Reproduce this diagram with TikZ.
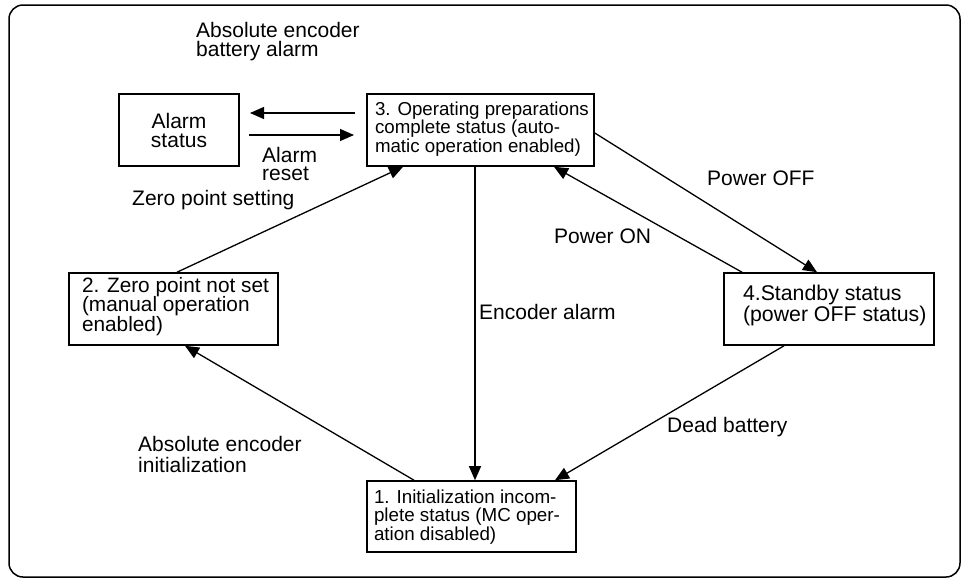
\documentclass[tikz,border=0pt]{standalone}
\usepackage{fontspec}
\setmainfont{Liberation Sans}
\usetikzlibrary{arrows.meta,calc}
\newcommand\boxtxt[7]{\parbox[c][#2][t]{#1}{\fontsize{#5}{#6}\selectfont\leftskip=#3\relax\rightskip=0pt plus 1fil\relax\parindent=0pt\parfillskip=0pt\relax\rule{0pt}{#4}#7}}
\newcommand\lbltxt[3]{\parbox[t]{#1}{\fontsize{21}{#2}\selectfont #3}}
\begin{document}
\begin{tikzpicture}[x=1pt,y=-1pt,
  box/.style={draw,line width=1.6pt,inner sep=0pt},
  lab/.style={inner sep=0pt,anchor=base west,font=\fontsize{21}{20}\selectfont},
  arr/.style={line width=1.3pt,-{Triangle[length=14pt,width=12pt]}},
]
\useasboundingbox (0,0) rectangle (962,579);
\draw[line width=1.5pt, rounded corners=14pt] (9,5) rectangle (960,577);

\node[box] (al) at (179,130) {\parbox[c][72pt][t]{120pt}{\centering\fontsize{21}{19}\selectfont\rule{0pt}{34pt}Alarm\\status\par}};
\node[box] (s3) at (480.5,130) {\boxtxt{227pt}{72pt}{8pt}{21pt}{18.7}{18.5}{3. Operating preparations\\complete status (auto-\\matic operation enabled)}};
\node[box] (s2) at (173.5,309) {\boxtxt{209pt}{72pt}{13pt}{19pt}{20.8}{19.5}{2. Zero point not set\\(manual operation\\enabled)}};
\node[box] (s4) at (829,309) {\boxtxt{210pt}{72pt}{19pt}{27pt}{21.3}{21.5}{4.Standby status\\(power OFF status)}};
\node[box] (s1) at (471.5,516.5) {\boxtxt{209pt}{71pt}{7pt}{22pt}{18.8}{18.5}{1. Initialization incom-\\plete status (MC oper-\\ation disabled)}};

\coordinate (a1) at (355,113); \coordinate (a2) at (250,113);
\coordinate (b1) at (249,135); \coordinate (b2) at (354,135);
\draw[arr] (a1) -- (a2);
\draw[arr] (b1) -- (b2);
\draw[arr] ($(s2.north)+(3.5,0)$) -- ($(s3.south)+(-77.5,0)$);
\draw[arr] ($(s1.north)+(-57.5,0)$) -- ($(s2.south)+(11.5,0)$);
\draw[arr] ($(s3.south)+(-5.5,0)$) -- ($(s1.north)+(3.5,0)$);
\draw[arr] ($(s3.east)+(0,3)$) -- ($(s4.north)+(-12,0)$);
\draw[arr] ($(s4.north)+(-87,0)$) -- ($(s3.south)+(73.5,0)$);
\draw[arr] ($(s4.south)+(-45,0)$) -- ($(s1.north)+(83.5,0)$);

\node[lab] (t1) at (196,37) {\lbltxt{170pt}{19.5}{Absolute encoder\\battery alarm}};
\node[lab] (t2) at (262,162) {\lbltxt{58pt}{18.5}{Alarm\\reset}};
\node[lab] (t3) at (132,205) {Zero point setting};
\node[lab] (t4) at (479,319) {Encoder alarm};
\node[lab] (t5) at (707,185) {Power OFF};
\node[lab] (t6) at (554,243) {Power ON};
\node[lab] (t7) at (667,432) {Dead battery};
\node[lab] (t8) at (138,451) {\lbltxt{170pt}{21}{Absolute encoder\\initialization}};
\end{tikzpicture}
\end{document}
